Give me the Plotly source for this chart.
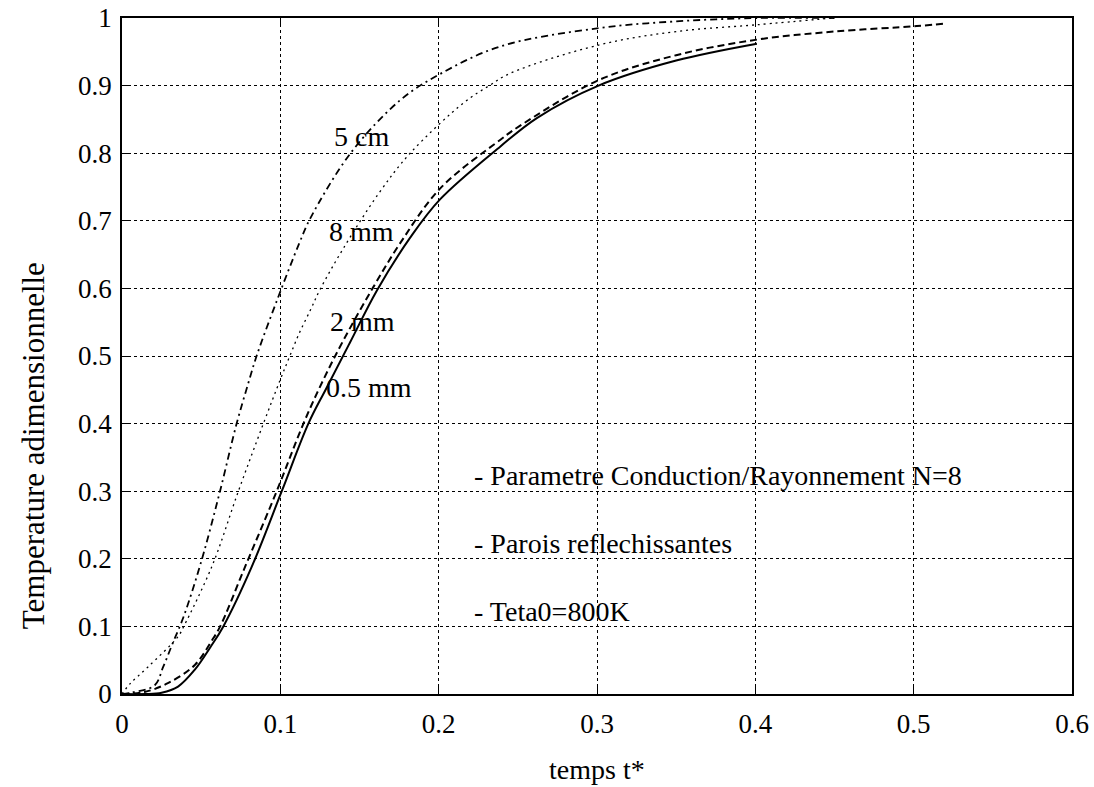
import plotly.graph_objects as go

# 0.5 mm (solid)
t_05 = [0.0, 0.015, 0.025, 0.0354, 0.046, 0.056, 0.064, 0.0819, 0.1009, 0.1177, 0.129, 0.144,
        0.161, 0.182, 0.201, 0.239, 0.262, 0.301, 0.35, 0.401]
T_05 = [0.0, 0.0, 0.002, 0.011, 0.036, 0.07, 0.1, 0.188, 0.3, 0.4, 0.452, 0.52,
        0.597, 0.675, 0.732, 0.81, 0.852, 0.90, 0.937, 0.962]

# 2 mm (dashed)
t_2 = [0.0, 0.0143, 0.029, 0.046, 0.057, 0.062, 0.0777, 0.0977, 0.1146, 0.127, 0.140, 0.159,
       0.176, 0.201, 0.239, 0.251, 0.301, 0.35, 0.401, 0.45, 0.502, 0.521]
T_2 = [0.0, 0.003, 0.016, 0.043, 0.08, 0.1, 0.188, 0.3, 0.4, 0.464, 0.524, 0.603,
       0.668, 0.748, 0.82, 0.84, 0.908, 0.945, 0.968, 0.98, 0.988, 0.992]

# 8 mm (dotted)
t_8 = [0.0, 0.005, 0.0164, 0.0354, 0.039, 0.057, 0.0735, 0.0893, 0.0998, 0.106, 0.112, 0.119,
       0.125, 0.14, 0.162, 0.182, 0.216, 0.232, 0.245, 0.301, 0.35, 0.401, 0.449]
T_8 = [0.0, 0.015, 0.04, 0.085, 0.1, 0.19, 0.3, 0.4, 0.464, 0.5, 0.534, 0.568,
       0.598, 0.66, 0.74, 0.80, 0.875, 0.9, 0.918, 0.96, 0.98, 0.99, 1.0]

# 5 cm (dash-dot)
t_5 = [0.0, 0.006, 0.0207, 0.026, 0.032, 0.039, 0.0503, 0.0619, 0.0724, 0.0798, 0.085, 0.098,
       0.112, 0.119, 0.145, 0.176, 0.2, 0.239, 0.301, 0.35, 0.401, 0.45]
T_5 = [0.0, 0.002, 0.013, 0.04, 0.075, 0.115, 0.198, 0.3, 0.4, 0.46, 0.5, 0.583,
       0.667, 0.704, 0.802, 0.879, 0.916, 0.958, 0.985, 0.995, 1.0, 1.0]

x_ticks = [0, 0.1, 0.2, 0.3, 0.4, 0.5, 0.6]
x_ticklabels = ["0", "0.1", "0.2", "0.3", "0.4", "0.5", "0.6"]
y_ticks = [0, 0.1, 0.2, 0.3, 0.4, 0.5, 0.6, 0.7, 0.8, 0.9, 1]
y_ticklabels = ["0", "0.1", "0.2", "0.3", "0.4", "0.5", "0.6", "0.7", "0.8", "0.9", "1"]

curve_labels = ["5 cm", "8 mm", "2 mm", "0.5 mm"]
curve_label_x = [0.1514, 0.1514, 0.152, 0.1557]
curve_label_y = [0.825, 0.684, 0.551, 0.453]

notes = ["- Parametre Conduction/Rayonnement N=8", "- Parois reflechissantes", "- Teta0=800K"]
notes_x = [0.221, 0.221, 0.221]
notes_y = [0.323, 0.222, 0.122]

x_title = "temps t*"
y_title = "Temperature adimensionnelle"

FONT = "Liberation Serif, Times New Roman, serif"

fig = go.Figure()
spl = dict(shape="spline", smoothing=1.0)
fig.add_trace(go.Scatter(x=t_05, y=T_05, mode="lines", name="0.5 mm",
                         line=dict(color="black", width=2, dash="solid", **spl)))
fig.add_trace(go.Scatter(x=t_2, y=T_2, mode="lines", name="2 mm",
                         line=dict(color="black", width=2, dash="7px,4px", **spl)))
fig.add_trace(go.Scatter(x=t_8, y=T_8, mode="lines", name="8 mm",
                         line=dict(color="black", width=1.3, dash="2px,4px", **spl)))
fig.add_trace(go.Scatter(x=t_5, y=T_5, mode="lines", name="5 cm",
                         line=dict(color="black", width=1.8, dash="7px,4px,2px,4px", **spl)))

for txt, x, y in zip(curve_labels, curve_label_x, curve_label_y):
    fig.add_annotation(x=x, y=y, text=txt, showarrow=False, xanchor="center", yanchor="middle",
                       font=dict(family=FONT, size=28, color="black"))
for txt, x, y in zip(notes, notes_x, notes_y):
    fig.add_annotation(x=x, y=y, text=txt, showarrow=False, xanchor="left", yanchor="middle",
                       font=dict(family=FONT, size=28, color="black"))

# axis titles as annotations
fig.add_annotation(x=0.5, y=-0.1376, xref="paper", yref="paper", text=x_title, showarrow=False,
                   xanchor="center", yanchor="bottom", font=dict(family=FONT, size=28, color="black"))
fig.add_annotation(x=-0.0937, y=0.368, xref="paper", yref="y", text=y_title, showarrow=False,
                   textangle=-90, xanchor="center", yanchor="middle",
                   font=dict(family=FONT, size=31, color="black"))

axis_common = dict(showline=True, linecolor="black", linewidth=1.5, mirror="ticks",
                   ticks="inside", ticklen=8, tickcolor="black", tickwidth=1,
                   showgrid=True, gridcolor="black", gridwidth=1, griddash="dot",
                   zeroline=False, automargin=False, ticklabeloverflow="allow",
                   tickfont=dict(family=FONT, size=27, color="black"))

fig.update_xaxes(range=[0, 0.6], tickvals=x_ticks, ticktext=x_ticklabels,
                 ticklabelstandoff=5, **axis_common)
fig.update_yaxes(range=[0, 1], tickvals=y_ticks, ticktext=y_ticklabels,
                 ticklabelstandoff=3, **axis_common)

fig.update_layout(width=1094, height=787, autosize=False,
                  margin=dict(l=122, r=22, t=18, b=93),
                  paper_bgcolor="white", plot_bgcolor="white", showlegend=False,
                  hovermode=False,
                  font=dict(family=FONT, color="black"))

# remove the default 8px page margin so the figure fills the window exactly
fig.write_html("out.html", config={"displayModeBar": False},
               post_script="document.body.style.margin='0';")
